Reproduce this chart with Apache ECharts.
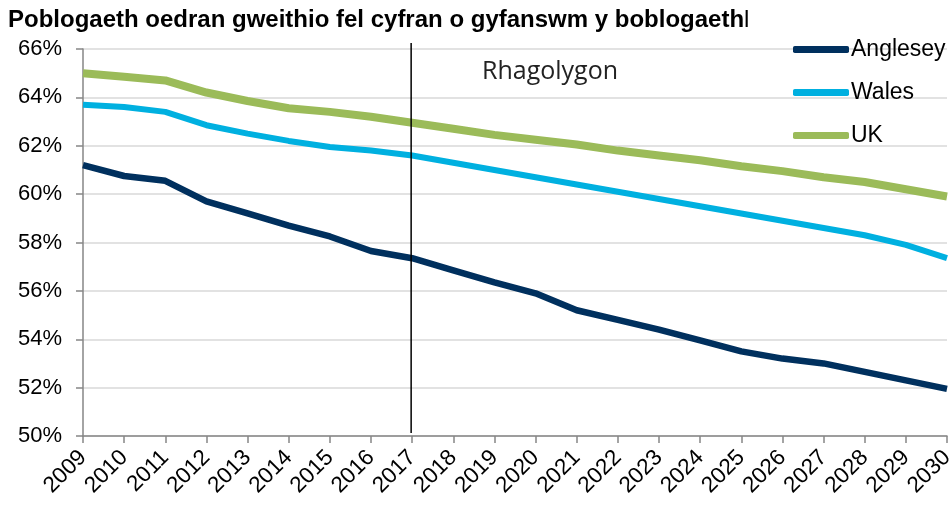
<!DOCTYPE html>
<html><head><meta charset="utf-8">
<script src="https://cdn.jsdelivr.net/npm/echarts@6/dist/echarts.min.js"></script>
<style>html,body{margin:0;padding:0;background:#fff}#c{width:952px;height:507px}</style>
</head><body><div id="c"></div>
<script>
const years = ['2009','2010','2011','2012','2013','2014','2015','2016','2017','2018','2019','2020','2021','2022','2023','2024','2025','2026','2027','2028','2029','2030'];
const anglesey = [61.2,60.75,60.55,59.7,59.2,58.7,58.25,57.65,57.35,56.85,56.35,55.9,55.2,54.8,54.4,53.95,53.5,53.2,53.0,52.65,52.3,51.95];
const wales = [63.7,63.6,63.4,62.85,62.5,62.2,61.95,61.8,61.6,61.3,61.0,60.7,60.4,60.1,59.8,59.5,59.2,58.9,58.6,58.3,57.9,57.35];
const uk = [65.0,64.85,64.7,64.2,63.85,63.55,63.4,63.2,62.95,62.7,62.45,62.25,62.05,61.8,61.6,61.4,61.15,60.95,60.7,60.5,60.2,59.9];
const yTicks = [50,52,54,56,58,60,62,64,66];
const forecastYear = '2017';
const titleText = 'Poblogaeth oedran gweithio fel cyfran o gyfanswm y boblogaeth';
const forecastLabel = 'Rhagolygon';

const chart = echarts.init(document.getElementById('c'));
const F = 'Liberation Sans, Arial, sans-serif';
const option = {
  animation: false,
  title: {
    text: '{b|' + titleText + '}{n|l}',
    left: 8, top: 8, padding: 0,
    textStyle: { rich: {
      b: { fontFamily: F, fontWeight: 'bold', fontSize: 24, color: '#000' },
      n: { fontFamily: F, fontWeight: 'normal', fontSize: 24, color: '#000' }
    }}
  },
  legend: {
    orient: 'vertical', left: 793, top: 38, padding: 0,
    itemWidth: 56, itemHeight: 7, itemGap: 20, icon: 'roundRect',
    textStyle: { fontFamily: F, fontSize: 23, color: '#000', padding: [0,0,0,-3], lineHeight: 22 },
    data: ['Anglesey','Wales','UK']
  },
  grid: { left: 83, right: 5, top: 49, bottom: 71, containLabel: false, outerBoundsMode: 'none' },
  xAxis: {
    type: 'category', data: years, boundaryGap: false,
    axisLine: { lineStyle: { color: '#868686', width: 1.5 } },
    axisTick: { show: true, length: 7, lineStyle: { color: '#868686', width: 1.5 } },
    axisLabel: { rotate: 45, fontFamily: F, fontSize: 22.5, color: '#000', margin: 18, interval: 0 },
    splitLine: { show: false }
  },
  yAxis: {
    type: 'value', min: 50, max: 66, interval: 2,
    axisLine: { show: true, lineStyle: { color: '#868686', width: 1.5 } },
    axisTick: { show: true, length: 7, lineStyle: { color: '#868686', width: 1.5 } },
    axisLabel: { fontFamily: F, fontSize: 22, color: '#000', margin: 21,
      formatter: v => yTicks.includes(v) ? v + '%' : '' },
    splitLine: { lineStyle: { color: '#d9d9d9', width: 1.5 } }
  },
  series: [
    { name: 'Anglesey', type: 'line', data: anglesey, showSymbol: false, symbol: 'none',
      itemStyle: { color: '#00305e' }, lineStyle: { color: '#00305e', width: 6.5 } },
    { name: 'Wales', type: 'line', data: wales, showSymbol: false, symbol: 'none',
      itemStyle: { color: '#00b0e0' }, lineStyle: { color: '#00b0e0', width: 6 } },
    { name: 'UK', type: 'line', data: uk, showSymbol: false, symbol: 'none',
      itemStyle: { color: '#9bbb59' }, lineStyle: { color: '#9bbb59', width: 8 } }
  ]
};
chart.setOption(option);
const px = chart.convertToPixel({ xAxisIndex: 0 }, forecastYear) - 1;
const yBottom = chart.convertToPixel({ yAxisIndex: 0 }, 50) - 3;
chart.setOption({
  graphic: [
    { type: 'line', shape: { x1: px, y1: 43, x2: px, y2: yBottom }, style: { stroke: '#000', lineWidth: 1.5 }, z: 10 },
    { type: 'text', left: 482, top: 59, style: { text: forecastLabel, fontFamily: 'Open Sans, Liberation Sans, sans-serif', fontSize: 25, fill: '#222' } }
  ]
});
</script></body></html>
